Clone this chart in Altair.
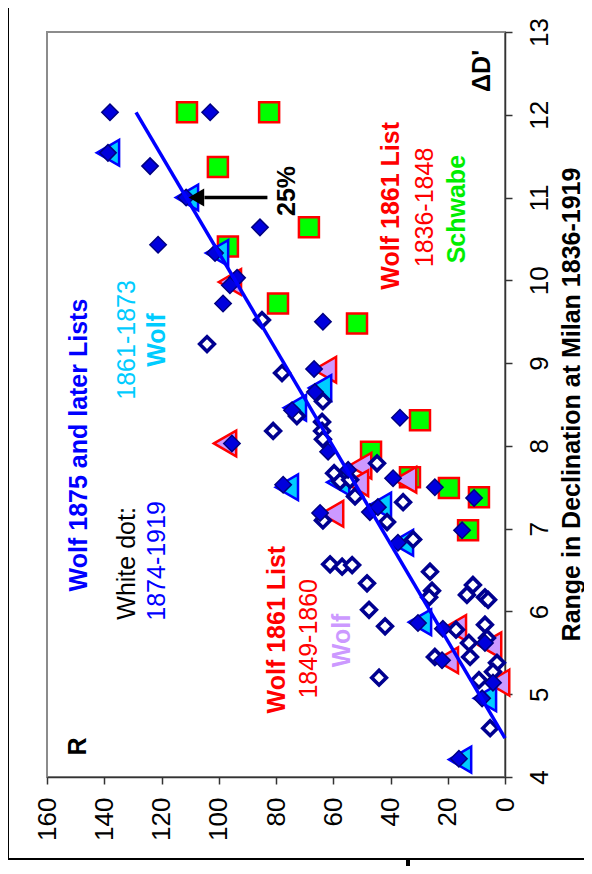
import altair as alt
import pandas as pd

FONT = "Liberation Sans"

# Wolf 1861 List, 1836-1848 (Schwabe) - green squares
sq_R = [111.1, 82.4, 100.3, 68.5, 96.8, 79.3, 51.7, 29.7, 46.8, 33.2, 19.6, 9.1, 12.9]
sq_D = [12.03, 12.03, 11.37, 10.64, 10.41, 9.72, 9.48, 8.31, 7.93, 7.62, 7.49, 7.38, 6.98]

# Wolf 1861 List, 1849-1860 (Wolf) - lavender triangles
lav_R = [96.1, 62.9, 97.8, 50.6, 51.7, 34.9, 60.4, 17.5, 20.3, 5.2, 2.4]
lav_D = [9.98, 8.92, 8.03, 7.76, 7.55, 7.59, 7.18, 5.80, 5.41, 5.59, 5.14]

# 1861-1873 Wolf - cyan triangles
cy_R = [138.7, 111.1, 100.6, 73.4, 64.6, 76.2, 58.3, 43.7, 36.0, 29.7, 7.0, 15.7]
cy_D = [11.54, 11.00, 10.33, 8.46, 8.70, 7.50, 7.56, 7.28, 6.83, 5.87, 4.95, 4.21]

# Wolf 1875 and later lists, 1836-1873 - filled diamonds
fd_R = [138.0, 103.0, 138.7, 124.0, 111.4, 85.6, 121.2, 101.3, 93.6, 96.1, 98.5, 63.6,
        66.7, 66.4, 74.4, 36.7, 95.4, 61.8, 39.1, 24.5, 10.8, 15.0, 77.5, 64.6, 47.2,
        44.4, 37.4, 54.8, 30.4, 21.7, 22.0, 4.2, 8.0, 16.1, 7.0]
fd_D = [12.03, 12.03, 11.54, 11.38, 11.00, 10.64, 10.43, 10.33, 10.03, 9.94, 9.72, 9.50,
        8.93, 8.65, 8.43, 8.34, 8.03, 7.93, 7.61, 7.50, 7.37, 6.98, 7.53, 7.19, 7.20,
        7.26, 6.83, 7.71, 5.86, 5.79, 5.41, 5.14, 4.95, 4.22, 5.62]

# Wolf 1875 and later lists, 1874-1919 - white-dot diamonds
hd_R = [84.9, 104.1, 77.9, 63.6, 72.7, 63.9, 63.9, 63.6, 81.0, 44.7, 59.7, 57.6, 54.1,
        52.4, 35.6, 41.2, 63.6, 32.1, 61.1, 56.9, 53.4, 48.2, 26.2, 11.2, 25.5, 26.5,
        13.3, 7.0, 5.9, 47.5, 41.9, 7.0, 17.1, 6.3, 12.6, 12.2, 24.5, 2.8, 4.2, 9.1,
        44.0, 5.2]
hd_D = [9.52, 9.23, 8.88, 8.54, 8.36, 8.29, 8.18, 8.08, 8.18, 7.79, 7.67, 7.57, 7.59,
        7.39, 7.32, 7.08, 7.10, 6.87, 6.57, 6.54, 6.56, 6.34, 6.48, 6.32, 6.25, 6.17,
        6.20, 6.17, 6.14, 6.02, 5.82, 5.84, 5.78, 5.68, 5.62, 5.45, 5.45, 5.38, 5.27,
        5.17, 5.20, 4.59]

# Fitted line end points
fit_R = [0.0, 128.9]
fit_D = [4.47, 12.03]

# 25% arrow
arrow_R = [83.0, 105.0]
arrow_D = [11.0, 11.0]
head_R = [107.8]
head_D = [11.0]

# Annotations
bold_text = ["ΔD'", "R", "Wolf 1875 and later Lists", "Wolf", "Wolf 1861 List", "Wolf",
             "Wolf 1861 List", "Schwabe", "25%"]
bold_R = [8.0, 149.2, 148.8, 121.6, 79.6, 56.9, 39.8, 16.8, 76.2]
bold_D = [12.53, 4.37, 8.01, 9.28, 5.78, 5.65, 10.90, 10.86, 11.08]
bold_col = ["#000000", "#000000", "#0000FF", "#00CCFF", "#FF0000", "#CC99FF",
            "#FF0000", "#00EE00", "#000000"]

norm_text = ["White dot:", "1874-1919", "1861-1873", "1849-1860", "1836-1848"]
norm_R = [132.0, 121.6, 132.0, 68.5, 27.9]
norm_D = [6.58, 6.61, 9.28, 5.67, 10.88]
norm_col = ["#000000", "#0000FF", "#00CCFF", "#FF0000", "#FF0000"]

x_ticks = [0, 20, 40, 60, 80, 100, 120, 140, 160]
y_ticks = [4, 5, 6, 7, 8, 9, 10, 11, 12, 13]

X = alt.X("R:Q", scale=alt.Scale(domain=[0, 160], reverse=True, nice=False, zero=False),
          axis=alt.Axis(values=x_ticks, title=None, grid=False, labelFlush=False,
                        labelOverlap=False, tickSize=7, tickWidth=1.5, tickColor="#333333",
                        domainColor="#333333", domainWidth=1.5, labelAngle=270,
                        labelAlign="right", labelBaseline="middle", labelPadding=13,
                        labelFontSize=26, labelFont=FONT, labelColor="#000000"))
Y = alt.Y("D:Q", scale=alt.Scale(domain=[4, 13], nice=False, zero=False),
          axis=alt.Axis(orient="right", values=y_ticks, grid=False, labelFlush=False,
                        labelOverlap=False, tickSize=7, tickWidth=1.5, tickColor="#333333",
                        domainColor="#333333", domainWidth=1.5, labelAngle=270,
                        labelAlign="center", labelBaseline="middle", labelPadding=27,
                        labelFontSize=26, labelFont=FONT, labelColor="#000000",
                        title="Range in Declination at Milan 1836-1919",
                        titleFont=FONT, titleFontSize=25, titleFontWeight="bold",
                        titleColor="#000000", titleAngle=270, titleX=66, titleY=372,
                        titleAlign="center", titleBaseline="middle"))


def df(R, D):
    return pd.DataFrame({"R": R, "D": D})


squares = alt.Chart(df(sq_R, sq_D)).mark_point(
    shape="square", size=400, filled=True, fill="#00FF00", stroke="#FF0000",
    strokeWidth=2.5, opacity=1).encode(x=X, y=Y)

lav = alt.Chart(df(lav_R, lav_D)).mark_point(
    shape="triangle-left", size=660, filled=True, fill="#CC99FF", stroke="#FF0000",
    strokeWidth=2.5, opacity=1).encode(x=X, y=Y)

cyan = alt.Chart(df(cy_R, cy_D)).mark_point(
    shape="triangle-left", size=660, filled=True, fill="#00CCFF", stroke="#0000FF",
    strokeWidth=2.5, opacity=1).encode(x=X, y=Y)

hollow = alt.Chart(df(hd_R, hd_D)).mark_point(
    shape="diamond", size=215, filled=True, fill="#FFFFFF", stroke="#000090",
    strokeWidth=3.6, opacity=1).encode(x=X, y=Y)

filled = alt.Chart(df(fd_R, fd_D)).mark_point(
    shape="diamond", size=270, filled=True, fill="#0000DD", stroke="#000080",
    strokeWidth=1.5, opacity=1).encode(x=X, y=Y)

fit = alt.Chart(df(fit_R, fit_D)).mark_line(color="#0000FF", strokeWidth=3.5).encode(
    x=X, y=Y)

arrow = alt.Chart(df(arrow_R, arrow_D)).mark_line(color="#000000", strokeWidth=3.5).encode(
    x=X, y=Y)
head = alt.Chart(df(head_R, head_D)).mark_point(
    shape="triangle-left", size=320, filled=True, fill="#000000", opacity=1,
    strokeWidth=0).encode(x=X, y=Y)

bold = alt.Chart(pd.DataFrame({"R": bold_R, "D": bold_D, "t": bold_text, "c": bold_col})).mark_text(
    angle=270, align="center", baseline="middle", font=FONT, fontSize=25, fontWeight="bold"
).encode(x=X, y=Y, text="t:N", color=alt.Color("c:N", scale=None))

norm = alt.Chart(pd.DataFrame({"R": norm_R, "D": norm_D, "t": norm_text, "c": norm_col})).mark_text(
    angle=270, align="center", baseline="middle", font=FONT, fontSize=25, fontWeight="normal"
).encode(x=X, y=Y, text="t:N", color=alt.Color("c:N", scale=None))

frame_df = pd.DataFrame({"a": [0]})
frame_left = alt.Chart(frame_df).mark_rule(color="#000000", strokeWidth=2).encode(
    x=alt.value(-39), y=alt.value(-24), y2=alt.value(827))
frame_bottom = alt.Chart(frame_df).mark_rule(color="#000000", strokeWidth=2).encode(
    x=alt.value(-39), x2=alt.value(540), y=alt.value(827))
frame_stub = alt.Chart(frame_df).mark_rule(color="#000000", strokeWidth=4).encode(
    x=alt.value(361), y=alt.value(827), y2=alt.value(840))

chart = alt.layer(
    squares, lav, cyan, hollow, filled, fit, arrow, head, bold, norm,
    frame_left, frame_bottom, frame_stub
).properties(
    width=458, height=745,
    padding={"left": 39, "top": 24, "right": 79, "bottom": 89},
    autosize=alt.AutoSizeParams(type="none"),
    background="#FFFFFF",
).configure_view(stroke="#8C8C8C", strokeWidth=2)

chart.save("out.html", embed_options={"renderer": "svg", "actions": False})
